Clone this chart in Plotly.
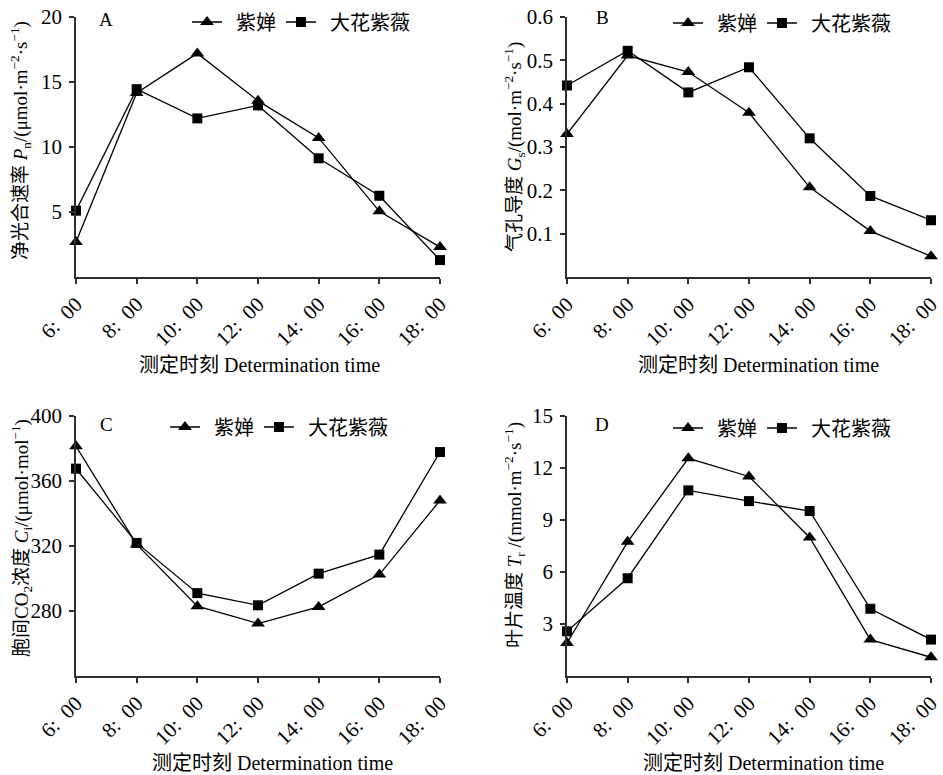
import plotly.graph_objects as go

# ---------------- data ----------------
hours = [6, 8, 10, 12, 14, 16, 18]
time_labels = ["6:\u200200", "8:\u200200", "10:\u200200", "12:\u200200",
               "14:\u200200", "16:\u200200", "18:\u200200"]
species = ["紫婵", "大花紫薇"]

pn_zichan = [2.7, 14.15, 17.2, 13.55, 10.7, 5.05, 2.3]
pn_dahua = [5.1, 14.45, 12.2, 13.2, 9.13, 6.25, 1.3]

gs_zichan = [0.330, 0.511, 0.473, 0.379, 0.207, 0.106, 0.048]
gs_dahua = [0.442, 0.522, 0.426, 0.484, 0.320, 0.187, 0.131]

ci_zichan = [381.4, 321.0, 283.0, 272.3, 282.5, 302.4, 348.0]
ci_dahua = [367.6, 321.9, 291.0, 283.5, 303.0, 314.7, 377.8]

tr_zichan = [1.91, 7.74, 12.56, 11.51, 7.99, 2.10, 1.08]
tr_dahua = [2.58, 5.64, 10.71, 10.09, 9.52, 3.88, 2.10]

pn_ticks = [5, 10, 15, 20]
gs_ticks = [0.1, 0.2, 0.3, 0.4, 0.5, 0.6]
ci_ticks = [280, 320, 360, 400]
tr_ticks = [3, 6, 9, 12, 15]

panel_letters = ["A", "B", "C", "D"]
x_title = "测定时刻 Determination time"
y_titles = [
    "净光合速率 <i>P</i><sub>n</sub>/(μmol·m<sup>−2</sup>·s<sup>−1</sup>)",
    "气孔导度 <i>G</i><sub>s</sub>/(mol·m<sup>−2</sup>·s<sup>−1</sup>)",
    "胞间CO<sub>2</sub>浓度 <i>C</i><sub>i</sub>/(μmol·mol<sup>−1</sup>)",
    "叶片温度 <i>T</i><sub>r</sub> /(mmol·m<sup>−2</sup>·s<sup>−1</sup>)",
]

# ---------------- layout geometry ----------------
W, H = 943, 775
FONT = "Liberation Serif, Times New Roman, Noto Sans CJK SC, serif"
CJK = "Noto Sans CJK SC, Liberation Serif, sans-serif"
AX = "#2e2e2e"

def px_x(v):
    return v / W

def px_y(v):
    return 1 - v / H

panels = [
    dict(xd=[76, 440], yd=[17, 277], yr=[0, 20], yt=pn_ticks, fmt="",
         data=(pn_zichan, pn_dahua)),
    dict(xd=[567, 931], yd=[17, 277], yr=[0, 0.6], yt=gs_ticks, fmt=".1f",
         data=(gs_zichan, gs_dahua)),
    dict(xd=[76, 440], yd=[416, 676], yr=[240, 400], yt=ci_ticks, fmt="",
         data=(ci_zichan, ci_dahua)),
    dict(xd=[567, 931], yd=[416, 676], yr=[0, 15], yt=tr_ticks, fmt="",
         data=(tr_zichan, tr_dahua)),
]

ytitle_pos = [(21, 141), (514, 147), (21, 538), (514, 535)]
xtitle_pos = [(259, 365), (758, 365), (272, 763), (763, 763)]
letter_pos = [(106, 19), (602, 18), (106, 424), (602, 424)]
legend_pos = [(187, 22), (668, 23), (165, 427), (668, 428)]

fig = go.Figure()
layout = dict(
    width=W, height=H,
    margin=dict(l=0, r=0, t=0, b=0, autoexpand=False),
    paper_bgcolor="white", plot_bgcolor="white",
    font=dict(family=FONT, size=20, color="black"),
    showlegend=True,
    annotations=[],
)

symbols = ["triangle-up", "square"]
msizes = [12, 10]

for i, p in enumerate(panels):
    sfx = "" if i == 0 else str(i + 1)
    xa, ya = "x" + sfx, "y" + sfx
    lg = "legend" + sfx
    for s in range(2):
        fig.add_trace(go.Scatter(
            x=hours, y=p["data"][s], name="\u00a0\u00a0" + species[s],
            mode="lines+markers", xaxis=xa, yaxis=ya, legend=lg,
            line=dict(color="black", width=1.3),
            marker=dict(symbol=symbols[s], size=msizes[s], color="black"),
            cliponaxis=False,
        ))
    layout["xaxis" + sfx] = dict(
        domain=[px_x(p["xd"][0]), px_x(p["xd"][1])],
        anchor=ya, range=[6, 18], automargin=False,
        tickvals=hours, ticktext=time_labels, tickangle=-45,
        showline=True, linecolor=AX, linewidth=1.5,
        ticks="outside", ticklen=5, tickcolor=AX, tickwidth=1.5,
        showgrid=False, zeroline=False,
        tickfont=dict(family=FONT, size=21),
    )
    layout["yaxis" + sfx] = dict(
        domain=[px_y(p["yd"][1]), px_y(p["yd"][0])],
        anchor=xa, range=p["yr"], automargin=False,
        tickvals=p["yt"], tickformat=p["fmt"],
        showline=True, linecolor=AX, linewidth=1.5,
        ticks="outside", ticklen=5, tickcolor=AX, tickwidth=1.5,
        ticklabelstandoff=3,
        showgrid=False, zeroline=False,
        tickfont=dict(family=FONT, size=21),
    )
    lx, ly = legend_pos[i]
    layout[lg] = dict(
        orientation="h", x=px_x(lx), y=px_y(ly),
        xanchor="left", yanchor="middle",
        font=dict(family=CJK, size=20), bgcolor="rgba(0,0,0,0)",
        itemwidth=30, tracegroupgap=0,
    )
    tx, ty = ytitle_pos[i]
    layout["annotations"].append(dict(
        text=y_titles[i], xref="paper", yref="paper",
        x=px_x(tx), y=px_y(ty), xanchor="center", yanchor="middle",
        textangle=-90, showarrow=False,
        font=dict(family=FONT, size=19),
    ))
    tx, ty = xtitle_pos[i]
    layout["annotations"].append(dict(
        text=x_title, xref="paper", yref="paper",
        x=px_x(tx), y=px_y(ty), xanchor="center", yanchor="middle",
        showarrow=False, font=dict(family=FONT, size=20),
    ))
    tx, ty = letter_pos[i]
    layout["annotations"].append(dict(
        text=panel_letters[i], xref="paper", yref="paper",
        x=px_x(tx), y=px_y(ty), xanchor="center", yanchor="middle",
        showarrow=False, font=dict(family=FONT, size=19),
    ))

fig.update_layout(**layout)
fig.write_html("out.html")
